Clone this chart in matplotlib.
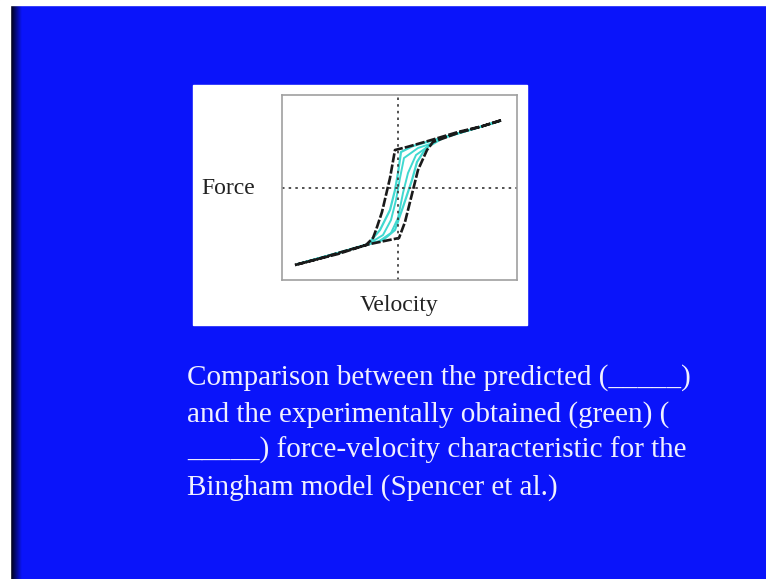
import numpy as np
import matplotlib.pyplot as plt
from matplotlib.patches import Rectangle

# hysteresis loops (velocity, force, arbitrary units)
black_v = [-1.03, -0.80, -0.60, -0.28, 0.01, 0.07, 0.15, 0.20, 0.29, 0.35, 0.60, 0.85, 1.04,
           0.85, 0.60, 0.30, 0.09, -0.03, -0.08, -0.16, -0.22, -0.25, -0.32, -0.60, -0.80, -1.03]
black_f = [-0.77, -0.71, -0.65, -0.56, -0.50, -0.34, -0.02, 0.18, 0.38, 0.46, 0.55, 0.62, 0.68,
           0.62, 0.56, 0.47, 0.41, 0.38, 0.10, -0.24, -0.42, -0.50, -0.57, -0.66, -0.71, -0.77]

cyan1_v = [-1.00, -0.60, -0.35, -0.15, -0.03, 0.05, 0.14, 0.19, 0.28, 0.45, 0.75, 1.02,
           0.75, 0.50, 0.15, 0.03, 0.00, -0.03, -0.08, -0.18, -0.30, -0.60, -1.00]
cyan1_f = [-0.76, -0.65, -0.58, -0.52, -0.42, -0.19, 0.08, 0.26, 0.40, 0.50, 0.59, 0.67,
           0.59, 0.52, 0.42, 0.36, 0.15, -0.02, -0.22, -0.42, -0.56, -0.65, -0.76]

cyan2_v = [-0.28, -0.20, -0.07, 0.00, 0.05, 0.10, 0.18, 0.35, 0.20, 0.06, 0.02, -0.02, -0.07, -0.15, -0.28]
cyan2_f = [-0.55, -0.54, -0.45, -0.30, -0.05, 0.15, 0.33, 0.45, 0.40, 0.30, 0.10, -0.12, -0.32, -0.47, -0.55]

caption = ["Comparison between the predicted (_____)",
           "and the experimentally obtained (green) (",
           "_____) force-velocity characteristic for the",
           "Bingham model (Spencer et al.)"]

W, H = 766, 579
fig = plt.figure(figsize=(W / 100, H / 100), dpi=100)
fig.patch.set_facecolor('#0a14fa')
plt.rcParams['font.family'] = 'Liberation Serif'

def px(x, y, w, h):
    return [x / W, 1 - (y + h) / H, w / W, h / H]

# white edge strips and dark left band
fig.patches.append(Rectangle((0, 0), 10 / W, 1, transform=fig.transFigure, color='white', zorder=0))
fig.patches.append(Rectangle((0, 1 - 5 / H), 1, 5 / H, transform=fig.transFigure, color='white', zorder=0))
band = fig.add_axes(px(10, 5, 12, 574))
grad = np.linspace(0, 1, 50)
img = np.zeros((1, 50, 3))
img[0, :, 0] = 0.04 * grad
img[0, :, 1] = 0.08 * grad
img[0, :, 2] = 0.98 * grad
band.imshow(img, aspect='auto')
band.axis('off')

# white inset panel
fig.patches.append(Rectangle((193 / W, 1 - 325 / H), 334 / W, 240 / H,
                             transform=fig.transFigure, color='white', zorder=1))

ax = fig.add_axes(px(282, 95, 235, 185))
ax.set_zorder(2)
ax.plot(cyan1_v, cyan1_f, color='#40d8d0', lw=1.6)
ax.plot(cyan2_v, cyan2_f, color='#40d8d0', lw=1.4)
ax.plot(black_v, black_f, color='#1a1a1a', lw=1.9, ls=(0, (3.5, 0.8)))
ax.axhline(0, color='#333333', lw=1.2, ls=(0, (1.5, 2.5)))
ax.axvline(0, color='#333333', lw=1.2, ls=(0, (1.5, 2.5)))
ax.set_xlim(-1.16, 1.19)
ax.set_ylim(-0.92, 0.93)
ax.set_xticks([])
ax.set_yticks([])
for s in ax.spines.values():
    s.set_color('#a0a0a0')
    s.set_linewidth(1.2)

fig.text(228 / W, 1 - 188 / H, "Force", fontsize=17, color='#222222', ha='center', va='center', zorder=3)
fig.text(399 / W, 1 - 306 / H, "Velocity", fontsize=17, color='#222222', ha='center', va='center', zorder=3)

baselines = [385, 422, 458, 495]
for line, yb in zip(caption, baselines):
    fig.text(187 / W, 1 - yb / H, line, fontsize=21, color='#f0f0ff', ha='left', va='baseline')

fig.savefig('out.png', dpi=100, facecolor=fig.get_facecolor())
